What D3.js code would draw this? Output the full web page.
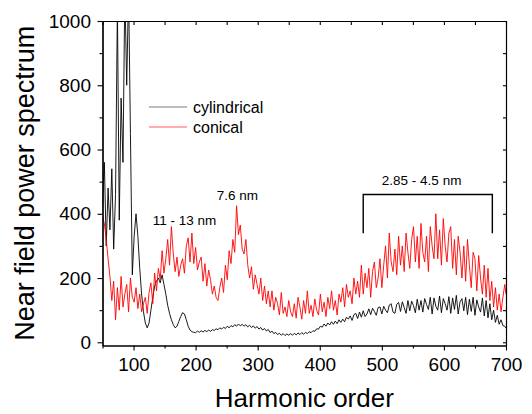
<!DOCTYPE html>
<html>
<head>
<meta charset="utf-8">
<script src="https://cdn.jsdelivr.net/npm/d3@7"></script>
<style>
  body { margin: 0; background: #fff; }
  svg { display: block; }
</style>
</head>
<body>
<script>
// harmonic orders (x), read every 3 orders off the picture
const harmonic = [
  50, 53, 56, 59, 62, 65, 68, 71, 74, 77,
  80, 83, 86, 89, 92, 95, 98, 101, 104, 107,
  110, 113, 116, 119, 122, 125, 128, 131, 134, 137,
  140, 143, 146, 149, 152, 155, 158, 161, 164, 167,
  170, 173, 176, 179, 182, 185, 188, 191, 194, 197,
  200, 203, 206, 209, 212, 215, 218, 221, 224, 227,
  230, 233, 236, 239, 242, 245, 248, 251, 254, 257,
  260, 263, 266, 269, 272, 275, 278, 281, 284, 287,
  290, 293, 296, 299, 302, 305, 308, 311, 314, 317,
  320, 323, 326, 329, 332, 335, 338, 341, 344, 347,
  350, 353, 356, 359, 362, 365, 368, 371, 374, 377,
  380, 383, 386, 389, 392, 395, 398, 401, 404, 407,
  410, 413, 416, 419, 422, 425, 428, 431, 434, 437,
  440, 443, 446, 449, 452, 455, 458, 461, 464, 467,
  470, 473, 476, 479, 482, 485, 488, 491, 494, 497,
  500, 503, 506, 509, 512, 515, 518, 521, 524, 527,
  530, 533, 536, 539, 542, 545, 548, 551, 554, 557,
  560, 563, 566, 569, 572, 575, 578, 581, 584, 587,
  590, 593, 596, 599, 602, 605, 608, 611, 614, 617,
  620, 623, 626, 629, 632, 635, 638, 641, 644, 647,
  650, 653, 656, 659, 662, 665, 668, 671, 674, 677,
  680, 683, 686, 689, 692, 695, 698, 700
]

// near field power spectrum, cylindrical target
const cylindrical = [
  420, 560, 300, 480, 350, 540, 290, 460, 1050, 380,
  760, 560, 1100, 800, 1100, 650, 210, 330, 400, 330,
  230, 150, 95, 60, 45, 60, 100, 140, 175, 190,
  200, 185, 210, 180, 150, 115, 90, 70, 55, 45,
  50, 65, 80, 92, 88, 70, 50, 38, 33, 31,
  30, 35, 31, 36, 32, 37, 33, 38, 34, 39,
  37, 42, 39, 45, 41, 47, 43, 50, 45, 52,
  48, 55, 50, 57, 51, 56, 50, 55, 48, 53,
  46, 51, 44, 49, 41, 46, 38, 43, 35, 40,
  30, 35, 27, 31, 24, 28, 22, 27, 21, 26,
  22, 27, 22, 28, 23, 29, 24, 30, 25, 31,
  27, 33, 30, 36, 34, 42, 41, 50, 47, 57,
  50, 60, 54, 64, 56, 66, 58, 70, 62, 72,
  64, 78, 72, 82, 68, 86, 90, 74, 94, 78,
  98, 80, 88, 104, 86, 106, 96, 84, 108, 110,
  88, 112, 100, 92, 116, 120, 94, 90, 118, 124,
  96, 126, 108, 90, 130, 98, 128, 114, 92, 134,
  100, 130, 94, 136, 118, 102, 140, 88, 138, 112,
  100, 144, 92, 136, 120, 100, 142, 90, 138, 102,
  146, 88, 126, 136, 98, 140, 86, 134, 96, 140,
  84, 132, 110, 94, 138, 82, 130, 76, 120, 70,
  100, 62, 84, 56, 70, 52, 50, 44
]

// near field power spectrum, conical target
const conical = [
  390, 370, 320, 260, 205, 130, 190, 70, 170, 100,
  205, 110, 150, 180, 95, 200, 140, 125, 170, 105,
  150, 95, 120, 140, 90, 155, 185, 120, 215, 160,
  230, 195, 285, 215, 260, 320, 240, 360, 275, 220,
  265, 205, 240, 260, 215, 300, 325, 250, 340, 245,
  295, 225, 250, 265, 190, 245, 175, 225, 195, 150,
  175, 140, 130, 170, 200, 155, 240, 195, 285, 245,
  320, 280, 425, 335, 365, 290, 275, 320, 240, 200,
  235, 165, 210, 180, 150, 200, 130, 175, 120, 160,
  110, 160, 100, 140, 120, 85, 155, 90, 110, 80,
  130, 95, 80, 120, 75, 140, 110, 72, 130, 90,
  160, 90, 115, 80, 135, 100, 85, 150, 95, 125,
  80, 140, 105, 160, 100, 130, 85, 150, 125, 170,
  110, 180, 140, 160, 120, 200, 150, 190, 140, 240,
  150, 215, 170, 230, 140, 220, 250, 170, 200, 260,
  170, 240, 300, 200, 340, 250, 220, 290, 210, 330,
  240, 300, 220, 340, 280, 230, 320, 360, 250, 330,
  230, 370, 280, 250, 330, 220, 360, 300, 260, 400,
  260, 350, 240, 385, 300, 250, 340, 360, 230, 320,
  210, 330, 280, 200, 300, 190, 320, 240, 170, 280,
  260, 160, 270, 200, 150, 240, 140, 230, 130, 190,
  110, 170, 100, 150, 95, 140, 180, 150
]

const seriesNames = ["cylindrical", "conical"]
const seriesColors = ["#000000", "#ff0000"]
const legendColors = ["#7a7a7a", "#ff6060"]

const xTicks = [100, 200, 300, 400, 500, 600, 700]
const xMinorTicks = [50, 150, 250, 350, 450, 550, 650]
const yTicks = [0, 200, 400, 600, 800, 1000]
const yMinorTicks = [100, 300, 500, 700, 900]

// labels sit in data coordinates (harmonic, power)
const noteText = ["11 - 13 nm", "7.6 nm", "2.85 - 4.5 nm"]
const noteHarmonic = [131, 234, 500]
const notePower = [365, 444, 491]
const bracketHarmonic = [470, 678]
const bracketPower = [339, 460]

const W = 532, H = 414
const margin = { top: 21, right: 26, bottom: 68.5, left: 102.5 }
const width = W - margin.left - margin.right
const height = H - margin.top - margin.bottom
const font = "'Liberation Sans', Arial, Helvetica, sans-serif"

const svg = d3.select("body").append("svg")
    .attr("width", W)
    .attr("height", H)
    .attr("font-family", font)

const g = svg.append("g")
    .attr("transform", "translate(" + margin.left + "," + margin.top + ")")

const x = d3.scaleLinear().domain([50, 700]).range([0, width])
const y = d3.scaleLinear().domain([-10, 1000]).range([height, 0])

g.append("clipPath").attr("id", "plot-clip")
    .append("rect").attr("width", width).attr("height", height)

// spectra
const line = d3.line()
    .x((d) => x(d[0]))
    .y((d) => y(d[1]))

const series = [cylindrical, conical]
series.forEach((vals, k) => {
    g.append("path")
        .datum(harmonic.map((h, i) => [h, vals[i]]))
        .attr("clip-path", "url(#plot-clip)")
        .attr("fill", "none")
        .attr("stroke", seriesColors[k])
        .attr("stroke-width", 0.9)
        .attr("stroke-linejoin", "round")
        .attr("d", line)
})

// axes: outward ticks on left/bottom, inward mirror ticks on top/right
const styleAxis = (sel) => {
    sel.select(".domain").attr("stroke", "#000").attr("stroke-width", 1.2)
    sel.selectAll(".tick line").attr("stroke", "#000").attr("stroke-width", 1.1)
}

g.append("g")
    .attr("transform", "translate(0," + height + ")")
    .call(d3.axisBottom(x).tickValues(xTicks).tickFormat(d3.format("d")).tickSize(5).tickSizeOuter(0).tickPadding(7))
    .call(styleAxis)
    .attr("font-size", 19).attr("font-family", font)
g.append("g")
    .attr("transform", "translate(0," + height + ")")
    .call(d3.axisBottom(x).tickValues(xMinorTicks).tickSize(3).tickSizeOuter(0).tickFormat(""))
    .call(styleAxis)

g.append("g")
    .call(d3.axisLeft(y).tickValues(yTicks).tickFormat(d3.format("d")).tickSize(5).tickSizeOuter(0).tickPadding(6.5))
    .call(styleAxis)
    .attr("font-size", 19).attr("font-family", font)
g.append("g")
    .call(d3.axisLeft(y).tickValues(yMinorTicks).tickSize(3).tickSizeOuter(0).tickFormat(""))
    .call(styleAxis)

g.append("g")
    .call(d3.axisTop(x).tickValues(xTicks.concat(xMinorTicks)).tickSize(-4).tickSizeOuter(0).tickFormat(""))
    .call(styleAxis)
g.append("g")
    .attr("transform", "translate(" + width + ",0)")
    .call(d3.axisRight(y).tickValues(yTicks.concat(yMinorTicks)).tickSize(-3).tickSizeOuter(0).tickFormat(""))
    .call(styleAxis)

g.selectAll(".tick text").attr("fill", "#000")

// axis titles
svg.append("text")
    .attr("x", margin.left + width / 2)
    .attr("y", 407)
    .attr("text-anchor", "middle")
    .attr("font-size", 26)
    .text("Harmonic order")

svg.append("text")
    .attr("transform", "translate(34," + (margin.top + height / 2) + ") rotate(-90)")
    .attr("text-anchor", "middle")
    .attr("font-size", 27)
    .text("Near field power spectrum")

// legend
const legend = svg.append("g").attr("transform", "translate(149,107)")
seriesNames.forEach((name, k) => {
    legend.append("line")
        .attr("x1", 0).attr("x2", 38)
        .attr("y1", k * 20).attr("y2", k * 20)
        .attr("stroke", legendColors[k])
        .attr("stroke-width", 1.2)
    legend.append("text")
        .attr("x", 44)
        .attr("y", k * 20 + 5.5)
        .attr("font-size", 16)
        .text(name)
})

// peak annotations
noteText.forEach((t, i) => {
    g.append("text")
        .attr("x", x(noteHarmonic[i]))
        .attr("y", y(notePower[i]))
        .attr("font-size", 13.5)
        .text(t)
})

g.append("path")
    .attr("fill", "none")
    .attr("stroke", "#000")
    .attr("stroke-width", 1.4)
    .attr("d", d3.line()([
        [x(bracketHarmonic[0]), y(bracketPower[0])],
        [x(bracketHarmonic[0]), y(bracketPower[1])],
        [x(bracketHarmonic[1]), y(bracketPower[1])],
        [x(bracketHarmonic[1]), y(bracketPower[0])]
    ]))
</script>
</body>
</html>
